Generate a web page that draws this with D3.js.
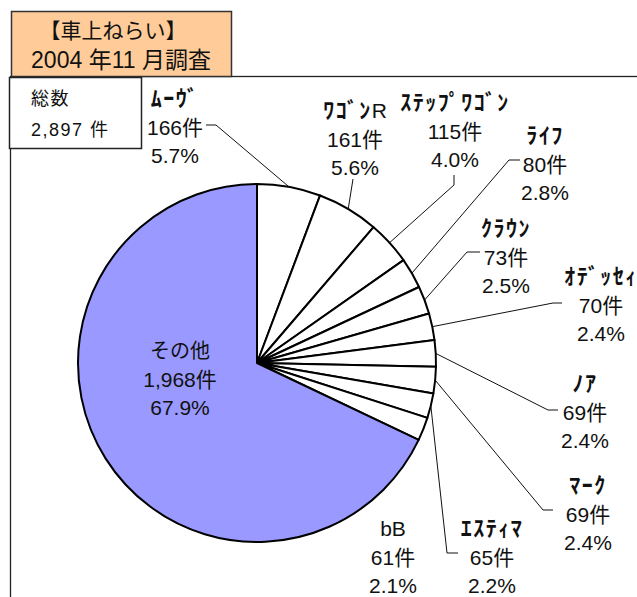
<!DOCTYPE html>
<html>
<head>
<meta charset="utf-8">
<script src="https://cdn.jsdelivr.net/npm/d3@7"></script>
<style>
  body { margin: 0; background: #fff; }
  svg { display: block; }
  .lbl { font-family: "Liberation Sans", "Noto Sans CJK JP", sans-serif; font-size: 21px; fill: #111; }
  .kana { font-family: "Noto Sans CJK JP", sans-serif; font-weight: bold; font-size: 22px; letter-spacing: 1.5px; fill: #111; }
  .latin { font-family: "Liberation Sans", sans-serif; font-weight: normal; font-size: 21px; letter-spacing: 0; }
</style>
</head>
<body>
<script>
// car-break-in counts by model, Nov 2004
const names = ["ﾑｰｳﾞ", "ﾜｺﾞﾝR", "ｽﾃｯﾌﾟﾜｺﾞﾝ", "ﾗｲﾌ", "ｸﾗｳﾝ", "ｵﾃﾞｯｾｨ", "ﾉｱ", "ﾏｰｸ", "ｴｽﾃｨﾏ", "bB", "その他"];
const counts = [166, 161, 115, 80, 73, 70, 69, 69, 65, 61, 1968];
const titleLines = ["【車上ねらい】", "2004 年11 月調査"];
const totalLines = ["総数", "2,897 件"];

let width = 637,
    height = 597,
    cx = 257,
    cy = 363,
    radius = 179,
    lineGap = 29;

// label placement: centre x, baseline of the count line, elbow points of the leader
let layout = [
    {x: 175, y: 135, lead: [[206, 125], [216, 125]]},
    {x: 355, y: 147, lead: [[353, 179]]},
    {x: 455, y: 139, lead: [[454, 175], [454, 185]]},
    {x: 545, y: 172, lead: [[520, 160], [509, 160]]},
    {x: 506, y: 265, lead: [[480, 252], [467, 252]]},
    {x: 601, y: 313, lead: [[562, 303], [553, 303]]},
    {x: 585, y: 420, lead: [[558, 410], [548, 410]]},
    {x: 588, y: 522, lead: [[553, 510], [543, 510]]},
    {x: 492, y: 565, lead: [[458, 553], [447, 553]]},
    {x: 393, y: 565, lead: []},
    {x: 180, y: 387, lead: []}
];

let total = d3.sum(counts);
let data = names.map((n, i) => ({name: n, count: counts[i], layout: layout[i]}));

let svg = d3.select("body").append("svg")
    .attr("width", width)
    .attr("height", height);

// outer frame (runs off the right and bottom)
svg.append("rect")
    .attr("x", 10.5).attr("y", 76.5)
    .attr("width", 700).attr("height", 700)
    .attr("fill", "none")
    .attr("stroke", "#222")
    .attr("stroke-width", 1.3);

// pie
let pie = d3.pie().sort(null).value(d => d.count);
let arcs = pie(data);
let arc = d3.arc().innerRadius(0).outerRadius(radius);

let g = svg.append("g").attr("transform", `translate(${cx},${cy})`);
g.selectAll("path.slice")
    .data(arcs)
    .join("path")
    .attr("class", "slice")
    .attr("d", arc)
    .attr("fill", d => d.data.name === "その他" ? "#9999FF" : "#FFFFFF")
    .attr("stroke", "#000")
    .attr("stroke-width", 2)
    .attr("stroke-linejoin", "round");

// leader lines from slice mid-angle on the rim
let line = d3.line();
arcs.forEach(a => {
    let L = a.data.layout;
    if (!L.lead.length) return;
    let mid = (a.startAngle + a.endAngle) / 2;
    let rim = [cx + radius * Math.sin(mid), cy - radius * Math.cos(mid)];
    svg.append("path")
        .attr("d", line(L.lead.concat([rim])))
        .attr("fill", "none")
        .attr("stroke", "#111")
        .attr("stroke-width", 1);
});

// labels
let fmtN = d3.format(","),
    fmtP = d3.format(".1%");
arcs.forEach(a => {
    let L = a.data.layout;
    let name = a.data.name;
    let inside = name === "その他";
    let t = svg.append("text")
        .attr("x", L.x).attr("y", L.y - lineGap)
        .attr("text-anchor", "middle");
    if (inside) {
        t.attr("class", "lbl")
            .style("font-family", "'Noto Sans CJK JP', sans-serif")
            .style("font-size", "20px")
            .text(name);
    } else {
        // katakana part in bold gothic, any latin tail in plain sans
        let m = name.match(/^([^A-Za-z]*)([A-Za-z]*)$/);
        t.attr("class", "kana");
        if (m[1]) t.append("tspan").text(m[1]);
        if (m[2]) t.append("tspan").attr("class", "latin").text(m[2]);
    }
    svg.append("text")
        .attr("class", "lbl")
        .attr("x", L.x).attr("y", L.y)
        .attr("text-anchor", "middle")
        .text(fmtN(a.data.count) + "件");
    svg.append("text")
        .attr("class", "lbl")
        .attr("x", L.x).attr("y", L.y + lineGap - 1)
        .attr("text-anchor", "middle")
        .text(fmtP(a.data.count / total));
});

// title box
svg.append("rect")
    .attr("x", 11.5).attr("y", 11.5)
    .attr("width", 220).attr("height", 65)
    .attr("fill", "#FFCC99")
    .attr("stroke", "#333")
    .attr("stroke-width", 1.5);
svg.selectAll("text.title")
    .data(titleLines)
    .join("text")
    .attr("class", "title")
    .attr("x", (d, i) => i ? 121 : 113)
    .attr("y", (d, i) => 38 + i * 30)
    .attr("text-anchor", "middle")
    .attr("font-family", "'Liberation Sans', 'Noto Sans CJK JP', sans-serif")
    .attr("font-size", (d, i) => i ? 23 : 21)
    .attr("fill", "#111")
    .text(d => d);

// total box
svg.append("rect")
    .attr("x", 9.5).attr("y", 77.5)
    .attr("width", 132).attr("height", 71)
    .attr("fill", "#fff")
    .attr("stroke", "#222")
    .attr("stroke-width", 1.5);
svg.selectAll("text.total")
    .data(totalLines)
    .join("text")
    .attr("class", "total")
    .attr("x", 31)
    .attr("y", (d, i) => 105 + i * 31)
    .attr("font-family", "'Liberation Sans', 'Noto Sans CJK JP', sans-serif")
    .attr("font-size", 18)
    .attr("letter-spacing", 1.5)
    .attr("fill", "#111")
    .text(d => d);
</script>
</body>
</html>
